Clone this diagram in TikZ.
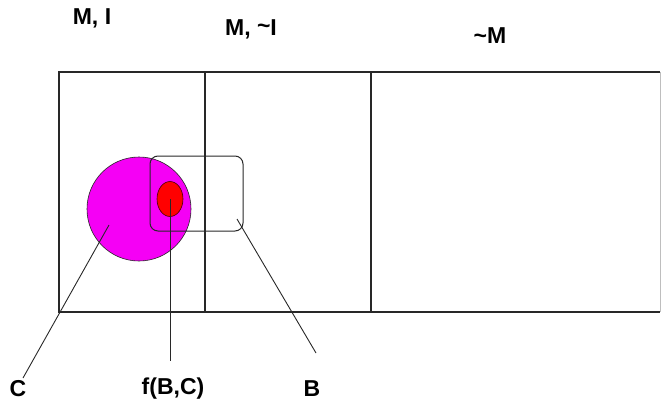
\documentclass[tikz,border=0pt]{standalone}
\usepackage{fontspec}
\setmainfont{Liberation Sans}
\usetikzlibrary{shapes.geometric}
\definecolor{mag}{RGB}{245,0,245}
\definecolor{lin}{RGB}{40,40,40}
\begin{document}
\begin{tikzpicture}[x=1pt,y=-1pt,
  lab/.style={font=\fontsize{23}{26}\selectfont\bfseries, inner sep=0pt, anchor=base},
  edge/.style={draw=lin, line width=1.2pt},
  thin/.style={draw=lin, line width=0.9pt}]
\useasboundingbox (0,0) rectangle (661,402);
% discs
\node[circle, fill=mag, draw=lin, line width=0.6pt, minimum size=104pt, inner sep=0pt] (C) at (139,209) {};
\node[ellipse, fill=red, draw=black!70!red, line width=0.6pt, minimum width=26pt, minimum height=35pt, inner sep=0pt] (F) at (170,199) {};
\node[draw=lin, line width=1pt, rounded corners=8pt, minimum width=93pt, minimum height=75pt, inner sep=0pt] (B) at (196.5,193.5) {};
% frame
\coordinate (tl) at (59,72);
\coordinate (tr) at (660,72);
\coordinate (bl) at (59,312);
\coordinate (br) at (660,312);
\draw[edge] (tr) -- (tl) -- (bl) -- (br);
\draw[lin!30, line width=0.8pt] (tr) -- (br);
\coordinate (v1t) at (205,72); \coordinate (v1b) at (205,312);
\coordinate (v2t) at (371,72); \coordinate (v2b) at (371,312);
\draw[edge] (v1t) -- (v1b);
\draw[edge] (v2t) -- (v2b);
% labels
\node[lab] (l1) at (92,24) {M, I};
\node[lab] (l2) at (251,35) {M, \raisebox{0.05em}{\textasciitilde}I};
\node[lab] (l3) at (490,43) {\textasciitilde M};
\node[lab] (lc) at (18,396) {C};
\node[lab] (lf) at (173,394) {f(B,C)};
\node[lab] (lb) at (312,396) {B};
% leaders
\coordinate (c1) at (109,225); \coordinate (c2) at (23,378);
\coordinate (f1) at (170,199); \coordinate (f2) at (170,361);
\coordinate (b1) at (237,219); \coordinate (b2) at (316,353);
\draw[thin] (c1) -- (c2);
\draw[thin] (f1) -- (f2);
\draw[thin] (b1) -- (b2);
\end{tikzpicture}
\end{document}
